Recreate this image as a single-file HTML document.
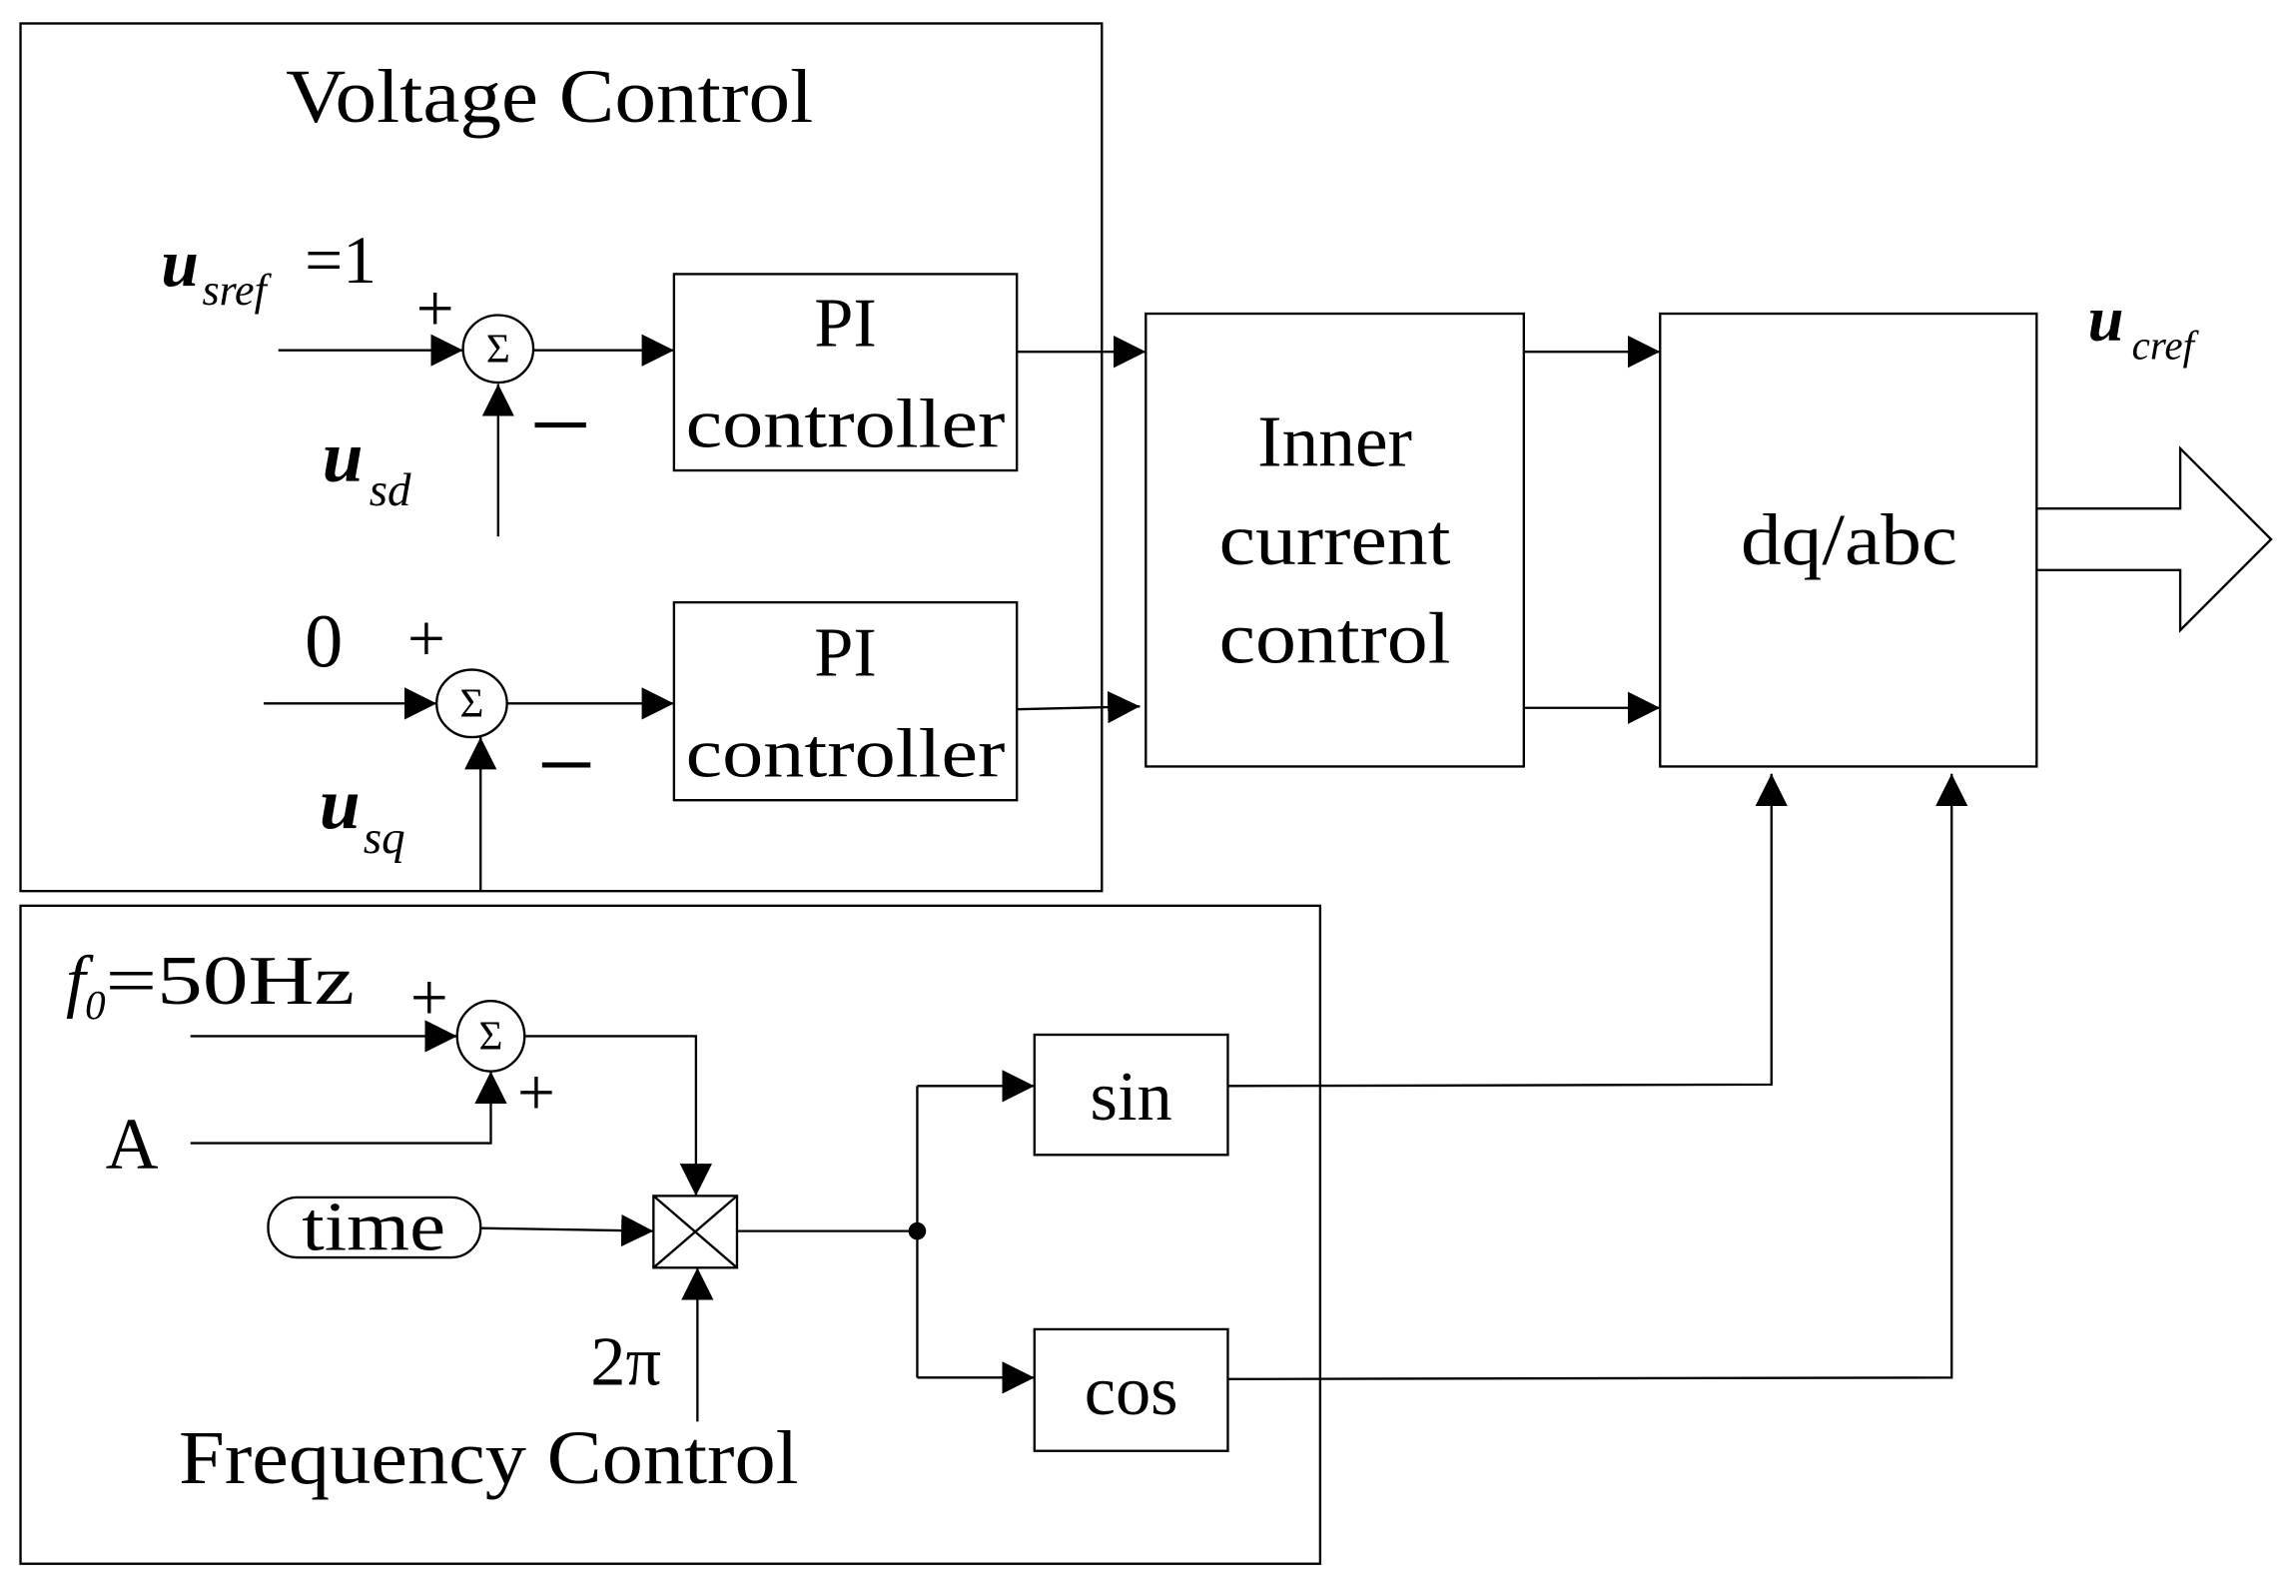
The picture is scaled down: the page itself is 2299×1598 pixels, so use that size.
<!DOCTYPE html>
<html><head><meta charset="utf-8"><style>
html,body{margin:0;padding:0;background:#fff;}
svg{display:block;}
text{font-family:"Liberation Serif",serif;fill:#000;}
</style></head><body>
<svg width="2299" height="1598" viewBox="0 0 1567 1089" preserveAspectRatio="none" xmlns="http://www.w3.org/2000/svg">
<defs>
<marker id="a" viewBox="0 0 10 10" refX="10" refY="5" markerWidth="22" markerHeight="22" markerUnits="userSpaceOnUse" orient="auto"><path d="M0,0 L10,5 L0,10 z" fill="#000"/></marker>
</defs>
<g fill="none" stroke="#000" stroke-width="1.6">
<rect x="14" y="16" width="738" height="592"/>
<rect x="14" y="618" width="887" height="449"/>
<rect x="460" y="187" width="234" height="134"/>
<rect x="460" y="411" width="234" height="135"/>
<rect x="782" y="214" width="258" height="309"/>
<rect x="1133" y="214" width="257" height="309"/>
<rect x="706" y="706" width="132" height="82"/>
<rect x="706" y="907" width="132" height="83"/>
<rect x="183" y="817" width="145" height="41" rx="20"/>
<rect x="446" y="816" width="57" height="49"/>
<path d="M446,816 L503,865 M503,816 L446,865"/>
<ellipse cx="340" cy="238" rx="24" ry="23"/>
<ellipse cx="322" cy="480" rx="24" ry="23"/>
<ellipse cx="335" cy="707" rx="23" ry="24"/>
<path d="M1390,347 L1488,347 L1488,306 L1550,368 L1488,430 L1488,389 L1390,389"/>
</g>
<g fill="none" stroke="#000" stroke-width="1.6" marker-end="url(#a)">
<path d="M190,239 L316,239"/>
<path d="M364,239 L460,239"/>
<path d="M340,366 L340,262"/>
<path d="M694,240 L782,240"/>
<path d="M180,480 L298,480"/>
<path d="M346,480 L460,480"/>
<path d="M328,608 L328,503"/>
<path d="M694,484 L778,482"/>
<path d="M1040,240 L1133,240"/>
<path d="M1040,483 L1133,483"/>
<path d="M130,707 L312,707"/>
<path d="M130,780 L335,780 L335,731"/>
<path d="M358,707 L475,707 L475,816"/>
<path d="M328,838 L446,840"/>
<path d="M476,970 L476,865"/>
<path d="M626,741 L706,741"/>
<path d="M626,940 L706,940"/>
<path d="M838,741 L1209,740 L1209,528"/>
<path d="M838,941 L1332,940 L1332,528"/>
</g>
<path d="M503,840 L626,840 M626,741 L626,940" stroke="#000" stroke-width="1.6" fill="none"/>
<circle cx="626" cy="840" r="6" fill="#000"/>
<g font-size="52">
<text x="195" y="83" textLength="360" lengthAdjust="spacingAndGlyphs">Voltage Control</text>
<text x="577" y="236" text-anchor="middle" font-size="48">PI</text>
<text x="577" y="305" text-anchor="middle" font-size="48" textLength="218" lengthAdjust="spacingAndGlyphs">controller</text>
<text x="577" y="461" text-anchor="middle" font-size="48">PI</text>
<text x="577" y="530" text-anchor="middle" font-size="48" textLength="218" lengthAdjust="spacingAndGlyphs">controller</text>
<text x="911" y="318" text-anchor="middle" font-size="50">Inner</text>
<text x="911" y="385" text-anchor="middle" font-size="50" textLength="158" lengthAdjust="spacingAndGlyphs">current</text>
<text x="911" y="452" text-anchor="middle" font-size="50" textLength="158" lengthAdjust="spacingAndGlyphs">control</text>
<text x="1262" y="385" text-anchor="middle" font-size="50" textLength="148" lengthAdjust="spacingAndGlyphs">dq/abc</text>
<text x="772" y="764" text-anchor="middle" font-size="48">sin</text>
<text x="772" y="965" text-anchor="middle" font-size="48">cos</text>
<text x="255" y="853" text-anchor="middle" font-size="48" textLength="98" lengthAdjust="spacingAndGlyphs">time</text>
<text x="122" y="1012" textLength="423" lengthAdjust="spacingAndGlyphs">Frequency Control</text>
<text x="403" y="945" font-size="48">2π</text>
<text x="72" y="797" font-size="50">A</text>
<text x="208" y="455">0</text>
<text x="110" y="195" font-size="46" font-style="italic" font-weight="bold">u</text>
<text x="138" y="208" font-size="30" font-style="italic">sref</text>
<text x="208" y="193" font-size="46">=1</text>
<text x="220" y="328" font-size="50" font-style="italic" font-weight="bold">u</text>
<text x="252" y="345" font-size="32" font-style="italic">sd</text>
<text x="218" y="565" font-size="50" font-style="italic" font-weight="bold">u</text>
<text x="248" y="582" font-size="32" font-style="italic">sq</text>
<text x="1425" y="232" font-size="44" font-style="italic" font-weight="bold">u</text>
<text x="1455" y="245" font-size="28" font-style="italic">cref</text>
<text x="45" y="685" font-size="48" font-style="italic">f</text>
<text x="58" y="695" font-size="28" font-style="italic">0</text>
<text x="72" y="685" font-size="48" textLength="170" lengthAdjust="spacingAndGlyphs">=50Hz</text>
<text x="284" y="226" font-size="46">+</text>
<text x="278" y="451" font-size="46">+</text>
<text x="280" y="696" font-size="46">+</text>
<text x="353" y="761" font-size="46">+</text>
<text x="340" y="247" font-size="28" text-anchor="middle">Σ</text>
<text x="322" y="489" font-size="28" text-anchor="middle">Σ</text>
<text x="335" y="716" font-size="28" text-anchor="middle">Σ</text>
</g>
<path d="M365,290 L400,290 M370,522 L403,522" stroke="#000" stroke-width="3.5"/>
</svg>
</body></html>
